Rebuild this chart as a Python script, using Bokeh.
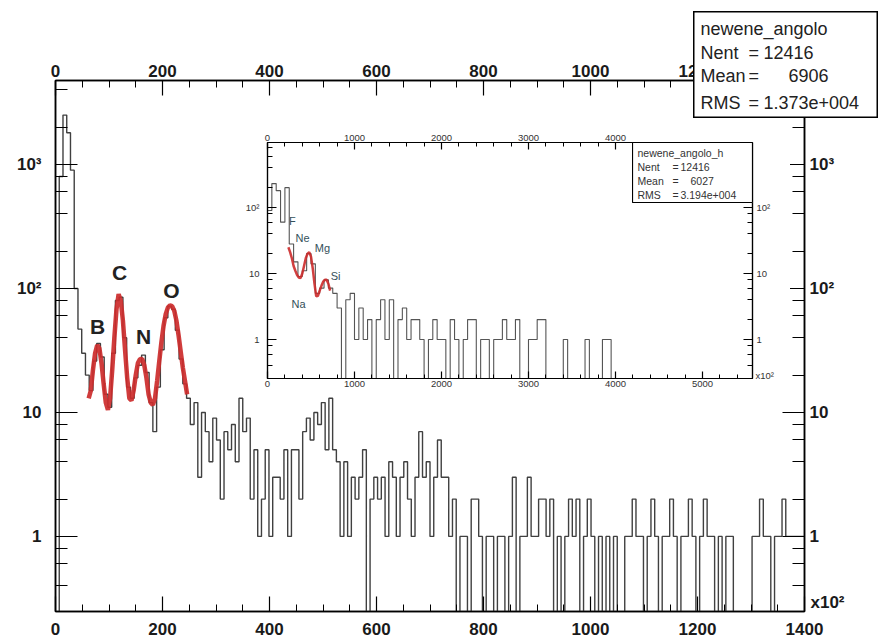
import numpy as np
from bokeh.plotting import figure
from bokeh.models import (Range1d, LinearAxis, LogAxis, SingleIntervalTicker,
                          LogTicker, Label)
from bokeh.embed import file_html
from bokeh.resources import INLINE
from bokeh.core.properties import value

# ---------------- data: main histogram (x in units of 10^2) ----------------
main_bin_width = 7
main_counts = [
    0, 800, 2500, 1800, 900, 100, 47, 30, 20, 15,
    26, 36, 28, 14, 11, 30, 80, 85, 40, 16,
    13, 19, 24, 29, 21, 12, 7, 16, 32, 58,
    72, 68, 46, 27, 17, 13, 8, 12, 3, 10,
    7, 4, 9, 6, 2, 7, 5, 8, 4, 13,
    7, 9, 2, 5, 1, 2, 5, 1, 3, 3,
    2, 5, 1, 5, 5, 2, 7, 9, 6, 10,
    8, 12, 5, 13, 5, 4, 1, 4, 1, 3,
    2, 3, 5, 0, 2, 3, 2, 3, 1, 4,
    3, 1, 3, 4, 2, 1, 3, 7, 3, 4,
    1, 3, 6, 3, 3, 1, 2, 0, 1, 1,
    0, 2, 2, 1, 0, 1, 1, 0, 1, 1,
    0, 1, 3, 0, 1, 1, 3, 1, 1, 2,
    2, 1, 2, 0, 1, 0, 1, 2, 1, 2,
    0, 1, 2, 1, 0, 1, 0, 1, 0, 1,
    0, 0, 1, 1, 2, 1, 1, 0, 1, 2,
    1, 0, 1, 1, 2, 1, 0, 1, 1, 2,
    1, 0, 1, 2, 1, 1, 0, 1, 0, 1,
    1, 0, 0, 0, 0, 0, 1, 1, 2, 1,
    1, 0, 1, 1, 2, 1, 1, 1, 1, 1,
]
fit_x = [62, 66, 70, 74, 78, 82, 86, 90, 94, 98, 102, 106, 110, 114, 118, 122,
         126, 130, 134, 138, 142, 146, 150, 154, 158, 162, 166, 170, 174, 178,
         182, 186, 190, 194, 198, 202, 206, 210, 214, 218, 222, 226, 230, 234,
         238, 242, 246]
fit_y = [13, 15, 22, 30, 35, 33, 25, 17, 12, 10.5, 13, 22, 40, 68, 90, 80,
         55, 32, 19, 13, 12.5, 15, 20, 25, 27, 27, 24, 19, 14, 12,
         11.5, 13, 18, 26, 37, 50, 62, 70, 73, 72, 66, 55, 42, 31,
         23, 18, 14]
peak_names = ["B", "C", "N", "O"]
peak_x = [78.5, 119.6, 164.5, 216.8]
peak_y = [49, 135, 41, 96]
main_stat_keys = ["newene_angolo", "Nent", "Mean", "RMS"]
main_stat_vals = ["", "12416", "6906", "1.373e+004"]

# ---------------- data: inset histogram ----------------
inset_bin_width = 50
inset_counts = [
    90, 230, 180, 60, 200, 28, 15, 9, 11, 20,
    14, 5, 6, 8, 6, 5, 3, 0, 4, 5,
    1, 3, 1, 2, 0, 2, 4, 1, 4, 0,
    2, 3, 1, 2, 2, 1, 0, 1, 2, 1,
    1, 0, 2, 1, 0, 1, 2, 2, 0, 1,
    1, 0, 1, 1, 2, 1, 1, 2, 0, 0,
    1, 1, 2, 2, 0, 0, 0, 0, 1, 0,
    0, 0, 0, 1, 0, 0, 0, 1, 1, 0,
]
inset_fit_x = [240, 260, 280, 300, 320, 340, 360, 380, 400, 420, 440, 460, 480,
               500, 520, 540, 560, 580, 600, 620, 640, 660, 680, 700, 720]
inset_fit_y = [25, 21, 17, 13, 11, 9.5, 8.7, 8.5, 10, 13, 17, 20, 21,
               18, 12, 7, 4.5, 4.6, 5.5, 6.5, 7.5, 8, 8, 7, 5.5]
inset_peak_names = ["F", "Ne", "Mg", "Si", "Na"]
inset_peak_x = [287, 402, 632, 782, 356]
inset_peak_y = [63, 35, 24, 9, 3.5]
inset_stat_keys = ["newene_angolo_h", "Nent", "Mean", "RMS"]
inset_stat_vals = ["", "12416", "6027", "3.194e+004"]

log_labels = {1: "1", 10: "10", 100: "10\u00b2", 1000: "10\u00b3"}
FONT = "Liberation Sans"


def place(fig, left, top, z):
    fig.styles = {"position": "absolute", "left": f"{left}px",
                  "top": f"{top}px", "z-index": str(z)}


def style_axis(ax, size, bold, tick_in, minor_in, standoff, lw=1.5, color="#1a1a1a"):
    ax.axis_line_color = "black"
    ax.axis_line_width = lw
    ax.major_tick_in = tick_in
    ax.major_tick_out = 0
    ax.minor_tick_in = minor_in
    ax.minor_tick_out = 0
    ax.major_tick_line_color = "black"
    ax.minor_tick_line_color = "black"
    ax.major_tick_line_width = 1.2
    ax.minor_tick_line_width = 1.0
    ax.major_label_text_font = FONT
    ax.major_label_text_font_size = size
    ax.major_label_text_font_style = "bold" if bold else "normal"
    ax.major_label_text_color = color
    ax.major_label_standoff = standoff


def step_arrays(counts, width, floor):
    c = np.array(counts, dtype=float)
    edges = np.arange(len(c) + 1) * width
    y = np.where(c > 0, c, floor)
    y = np.append(y, y[-1])
    return edges, y


def text_box(w, h, border=True):
    f = figure(width=w, height=h, x_range=Range1d(0, w), y_range=Range1d(0, h),
               output_backend="svg", toolbar_location=None,
               x_axis_location=None, y_axis_location=None, min_border=0)
    f.grid.visible = False
    if border:
        f.outline_line_color = "black"
        f.outline_line_width = 2
        f.background_fill_color = "white"
        f.border_fill_color = "white"
    else:
        f.outline_line_color = None
        f.background_fill_alpha = 0
        f.border_fill_alpha = 0
    return f


def add_text(f, x, y, txt, size, align="left", color="#222222", bold=False):
    f.add_layout(Label(x=x, y=y, text=txt, text_font=FONT, text_font_size=size,
                       text_color=color, text_align=align,
                       text_baseline="middle",
                       text_font_style="bold" if bold else "normal"))


# ---------------- main figure ----------------
p = figure(width=880, height=644, x_range=Range1d(0, 1400),
           y_range=Range1d(0.248, 4755), y_axis_type="log",
           output_backend="svg", toolbar_location=None,
           min_border_left=55, min_border_right=76,
           min_border_top=80, min_border_bottom=33)
p.grid.visible = False
p.outline_line_color = "black"
p.outline_line_width = 1.5
p.background_fill_color = "white"
p.border_fill_color = "white"

p.xaxis.ticker = SingleIntervalTicker(interval=200, num_minor_ticks=4)
style_axis(p.xaxis[0], "17px", True, 15, 7, 11)
p.yaxis.ticker = LogTicker()
p.yaxis.major_label_overrides = log_labels
style_axis(p.yaxis[0], "17px", True, 22, 12, 14)

top_ax = LinearAxis(ticker=SingleIntervalTicker(interval=200, num_minor_ticks=4))
style_axis(top_ax, "17px", True, 15, 7, 4)
p.add_layout(top_ax, "above")
right_ax = LogAxis(ticker=LogTicker(), major_label_overrides=log_labels)
style_axis(right_ax, "17px", True, 22, 12, 5)
p.add_layout(right_ax, "right")

mx, my = step_arrays(main_counts, main_bin_width, 0.05)
p.step(x=mx, y=my, mode="after", line_color="#404040", line_width=1.4)
p.line(x=fit_x, y=fit_y, line_color="#cc2b2b", line_width=4.5, line_alpha=0.92)
p.text(x=peak_x, y=peak_y, text=peak_names, text_font=value(FONT),
       text_font_style="bold", text_font_size="21px", text_color="#222222",
       text_align="center", text_baseline="middle")
place(p, 0, 0, 1)

# ---------------- inset figure ----------------
inset = figure(width=555, height=274, x_range=Range1d(0, 5575),
               y_range=Range1d(0.256, 966), y_axis_type="log",
               output_backend="svg", toolbar_location=None,
               min_border_left=32, min_border_right=38,
               min_border_top=20, min_border_bottom=18)
inset.grid.visible = False
inset.outline_line_color = "black"
inset.outline_line_width = 1.2
inset.background_fill_color = "white"
inset.border_fill_color = "white"

inset.xaxis.ticker = SingleIntervalTicker(interval=1000, num_minor_ticks=5)
style_axis(inset.xaxis[0], "9.5px", False, 7, 4, 2, lw=1.2, color="#333333")
inset.yaxis.ticker = LogTicker()
inset.yaxis.major_label_overrides = log_labels
style_axis(inset.yaxis[0], "9.5px", False, 9, 5, 8, lw=1.2, color="#333333")
itop = LinearAxis(ticker=SingleIntervalTicker(interval=1000, num_minor_ticks=5),
                  major_label_overrides={5000: ""})
style_axis(itop, "9.5px", False, 7, 4, 2, lw=1.2, color="#333333")
inset.add_layout(itop, "above")
iright = LogAxis(ticker=LogTicker(), major_label_overrides=log_labels)
style_axis(iright, "9.5px", False, 9, 5, 4, lw=1.2, color="#333333")
inset.add_layout(iright, "right")

ix, iy = step_arrays(inset_counts, inset_bin_width, 0.05)
inset.step(x=ix, y=iy, mode="after", line_color="#555555", line_width=1.1)
inset.line(x=inset_fit_x, y=inset_fit_y, line_color="#cc2b2b", line_width=2.5,
           line_alpha=0.9)
inset.text(x=inset_peak_x, y=inset_peak_y, text=inset_peak_names,
           text_font=value(FONT), text_font_size="11px", text_color="#34505a",
           text_align="center", text_baseline="middle")
place(inset, 235, 122, 2)

# ---------------- main stats box ----------------
sb = text_box(185, 107)
main_rows = [90, 66, 43, 16]
for k, v, y in zip(main_stat_keys, main_stat_vals, main_rows):
    add_text(sb, 7, y, k, "18px")
    if v:
        add_text(sb, 55, y, "=", "18px")
        vx = 95 if k == "Mean" else 70
        add_text(sb, vx, y, v, "18px")
place(sb, 693, 11, 3)

# ---------------- inset stats box ----------------
ib = text_box(121, 61)
ib.outline_line_width = 1.2
inset_rows = [51, 37, 23, 9]
for k, v, y in zip(inset_stat_keys, inset_stat_vals, inset_rows):
    add_text(ib, 5, y, k, "10.5px", color="#333333")
    if v:
        add_text(ib, 40, y, "=", "10.5px", color="#333333")
        vx = 58 if k == "Mean" else 48
        add_text(ib, vx, y, v, "10.5px", color="#333333")
place(ib, 632, 142, 4)

# ---------------- exponent labels ----------------
ex1 = text_box(52, 26, border=False)
add_text(ex1, 2, 13, "x10\u00b2", "17px", color="#1a1a1a", bold=True)
place(ex1, 808, 589, 5)

ex2 = text_box(34, 16, border=False)
add_text(ex2, 2, 8, "x10\u00b2", "9.5px", color="#333333")
place(ex2, 753, 367, 6)

open("out.html", "w").write(file_html([p, inset, sb, ib, ex1, ex2], INLINE))
